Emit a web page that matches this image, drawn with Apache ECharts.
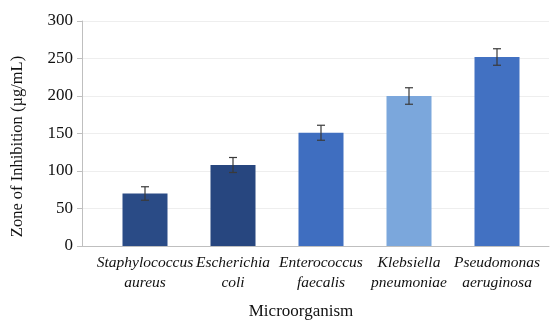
<!DOCTYPE html>
<html>
<head>
<meta charset="utf-8">
<script src="https://cdn.jsdelivr.net/npm/echarts@6/dist/echarts.min.js"></script>
<style>html,body{margin:0;padding:0;background:#fff;}#c{width:550px;height:320px;}</style>
</head>
<body>
<div id="c"></div>
<script>
var categories = ['Staphylococcus\naureus', 'Escherichia\ncoli', 'Enterococcus\nfaecalis', 'Klebsiella\npneumoniae', 'Pseudomonas\naeruginosa'];
var values = [70, 108, 151, 200, 252];
var errors = [9, 10, 10, 11, 11];
var colors = ['#2a4b86', '#27467f', '#3f6ec0', '#7ba7dc', '#4271c2'];
var yTicks = { min: 0, max: 300, interval: 50 };

var FONT = '"Liberation Serif", "Times New Roman", serif';
var chart = echarts.init(document.getElementById('c'), null, { renderer: 'canvas' });

var barData = values.map(function (v, i) {
  return { value: v, itemStyle: { color: colors[i] } };
});
var errData = values.map(function (v, i) { return [i, v - errors[i], v + errors[i]]; });

chart.setOption({
  animation: false,
  backgroundColor: '#ffffff',
  grid: [
    { left: 82, right: 1, top: 21, bottom: 74, containLabel: false, outerBoundsMode: 'none' },
    { left: 101, right: 9, top: 21, bottom: 74, containLabel: false, outerBoundsMode: 'none' }
  ],
  xAxis: [
    { gridIndex: 0, type: 'value', min: 0, max: 1,
      axisLine: { show: true, lineStyle: { color: '#bfbfbf', width: 1 } },
      axisTick: { show: false }, axisLabel: { show: false }, splitLine: { show: false } },
    { gridIndex: 1, type: 'category', data: categories, boundaryGap: true,
      axisLine: { show: false }, axisTick: { show: false },
      axisLabel: { interval: 0, margin: 7, color: '#111', fontFamily: FONT, fontStyle: 'italic', fontSize: 15.5, lineHeight: 20 },
      name: 'Microorganism', nameLocation: 'middle', nameGap: 57,
      nameTextStyle: { color: '#111', fontFamily: FONT, fontSize: 17, padding: [0, 40, 0, 0] } }
  ],
  yAxis: [
    { gridIndex: 0, type: 'value', min: yTicks.min, max: yTicks.max, interval: yTicks.interval,
      axisLine: { show: true, lineStyle: { color: '#bfbfbf', width: 1 } },
      axisTick: { show: true, length: 5, lineStyle: { color: '#bfbfbf' } },
      axisLabel: { color: '#111', fontFamily: FONT, fontSize: 17, margin: 9 },
      splitLine: { show: true, lineStyle: { color: '#eeeeee', width: 1 } },
      name: 'Zone of Inhibition (µg/mL)', nameLocation: 'middle', nameGap: 56,
      nameTextStyle: { color: '#111', fontFamily: FONT, fontSize: 16.5, padding: [0, 26, 0, 0] } },
    { gridIndex: 1, type: 'value', min: yTicks.min, max: yTicks.max, interval: yTicks.interval, show: false }
  ],
  series: [
    { type: 'bar', xAxisIndex: 1, yAxisIndex: 1, data: barData, barWidth: 45 },
    { type: 'custom', xAxisIndex: 1, yAxisIndex: 1, data: errData, z: 10,
      renderItem: function (params, api) {
        var x = api.value(0);
        var lo = api.coord([x, api.value(1)]);
        var hi = api.coord([x, api.value(2)]);
        var hw = 4;
        var st = { stroke: '#3a3a3a', lineWidth: 1.2 };
        return { type: 'group', children: [
          { type: 'line', shape: { x1: lo[0], y1: lo[1], x2: hi[0], y2: hi[1] }, style: st },
          { type: 'line', shape: { x1: hi[0] - hw, y1: hi[1], x2: hi[0] + hw, y2: hi[1] }, style: st },
          { type: 'line', shape: { x1: lo[0] - hw, y1: lo[1], x2: lo[0] + hw, y2: lo[1] }, style: st }
        ] };
      } }
  ]
});
</script>
</body>
</html>
